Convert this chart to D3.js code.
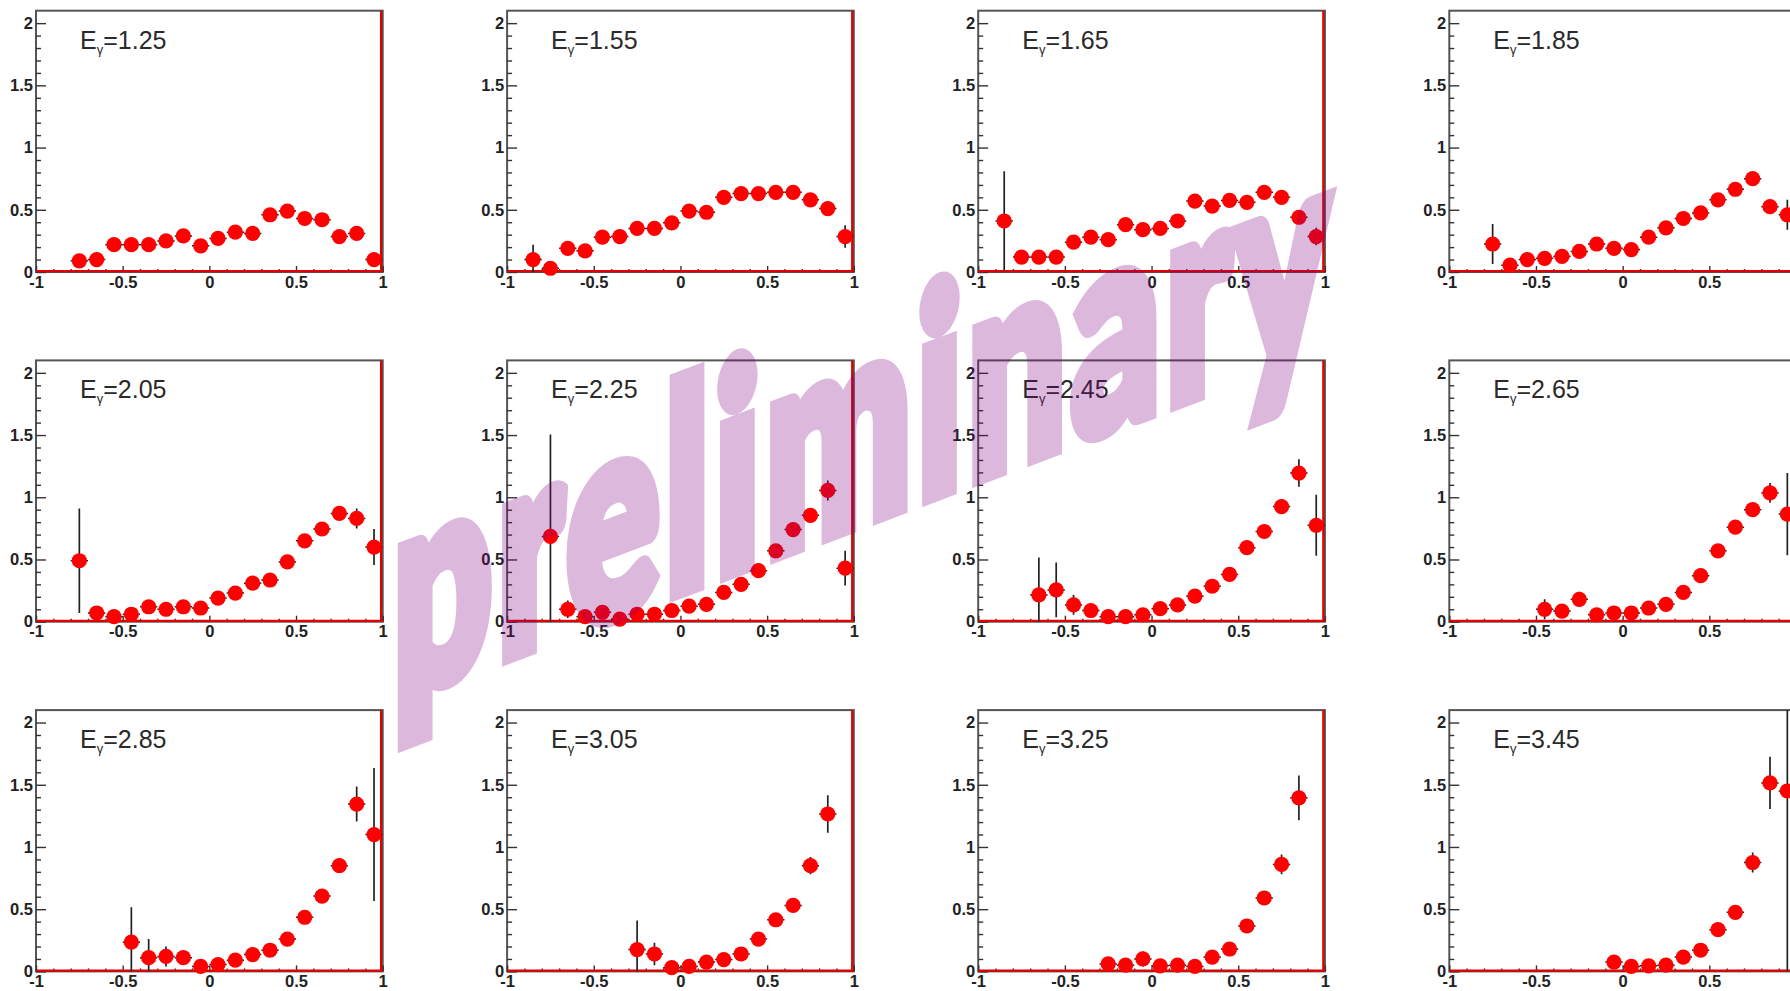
<!DOCTYPE html>
<html>
<head>
<meta charset="utf-8">
<script src="https://cdn.jsdelivr.net/npm/d3@7"></script>
<style>
  html, body { margin: 0; padding: 0; background: #fff; overflow: hidden; }
  svg { display: block; }
</style>
</head>
<body>
<svg id="chart" width="1790" height="991"></svg>
<script>
// cos(theta) bin centres (bin width 0.1)
const binCenters = [-0.95, -0.85, -0.75, -0.65, -0.55, -0.45, -0.35, -0.25, -0.15, -0.05,
                     0.05,  0.15,  0.25,  0.35,  0.45,  0.55,  0.65,  0.75,  0.85,  0.95];
const binHalfWidth = 0.05;

// photon energies, one panel each
const energyLabels = ["1.25", "1.55", "1.65", "1.85", "2.05", "2.25",
                      "2.45", "2.65", "2.85", "3.05", "3.25", "3.45"];

// axis ticks
const xMajorTicks = [-1, -0.5, 0, 0.5, 1];
const xMinorTicks = [-0.9, -0.8, -0.7, -0.6, -0.4, -0.3, -0.2, -0.1, 0.1, 0.2, 0.3, 0.4, 0.6, 0.7, 0.8, 0.9];
const yMajorTicks = [0, 0.5, 1, 1.5, 2];
const yMinorTicks = [0.1, 0.2, 0.3, 0.4, 0.6, 0.7, 0.8, 0.9, 1.1, 1.2, 1.3, 1.4, 1.6, 1.7, 1.8, 1.9];
const xDomain = [-1, 1];
const yDomain = [0, 2.1];

// measured values per bin (null = no measurement) and their errors
const val_125 = [null, null, 0.09, 0.10, 0.22, 0.22, 0.22, 0.25, 0.29, 0.21, 0.27, 0.32, 0.31, 0.46, 0.49, 0.43, 0.42, 0.285, 0.31, 0.10];
const err_125 = [null, null, 0.03, 0.03, 0.03, 0.03, 0.03, 0.03, 0.03, 0.03, 0.03, 0.03, 0.03, 0.04, 0.04, 0.04, 0.04, 0.03, 0.04, 0.04];

const val_155 = [null, 0.10, 0.03, 0.19, 0.17, 0.28, 0.285, 0.35, 0.35, 0.395, 0.49, 0.48, 0.60, 0.63, 0.63, 0.64, 0.64, 0.58, 0.51, 0.285];
const err_155 = [null, 0.12, 0.04, 0.04, 0.03, 0.03, 0.03, 0.03, 0.03, 0.03, 0.03, 0.03, 0.03, 0.03, 0.03, 0.03, 0.03, 0.04, 0.04, 0.09];

const val_165 = [null, 0.41, 0.12, 0.12, 0.12, 0.24, 0.28, 0.26, 0.38, 0.34, 0.35, 0.41, 0.57, 0.53, 0.575, 0.56, 0.64, 0.60, 0.44, 0.285];
const err_165 = [null, 0.40, 0.04, 0.03, 0.03, 0.03, 0.03, 0.03, 0.03, 0.03, 0.03, 0.03, 0.03, 0.03, 0.03, 0.03, 0.04, 0.04, 0.05, 0.07];

const val_185 = [null, null, 0.225, 0.055, 0.10, 0.11, 0.125, 0.165, 0.225, 0.19, 0.18, 0.28, 0.355, 0.43, 0.475, 0.58, 0.665, 0.75, 0.525, 0.46];
const err_185 = [null, null, 0.16, 0.04, 0.03, 0.03, 0.03, 0.03, 0.03, 0.03, 0.03, 0.03, 0.03, 0.03, 0.03, 0.03, 0.04, 0.04, 0.05, 0.12];

const val_205 = [null, null, 0.49, 0.07, 0.04, 0.06, 0.12, 0.10, 0.12, 0.11, 0.19, 0.23, 0.31, 0.335, 0.48, 0.65, 0.745, 0.87, 0.83, 0.60];
const err_205 = [null, null, 0.42, 0.04, 0.03, 0.03, 0.03, 0.03, 0.03, 0.03, 0.03, 0.03, 0.03, 0.03, 0.04, 0.04, 0.04, 0.05, 0.08, 0.145];

const val_225 = [null, null, 0.685, 0.10, 0.04, 0.075, 0.02, 0.06, 0.06, 0.09, 0.125, 0.14, 0.235, 0.30, 0.41, 0.57, 0.74, 0.855, 1.055, 0.43];
const err_225 = [null, null, 0.82, 0.07, 0.03, 0.04, 0.03, 0.03, 0.03, 0.03, 0.03, 0.03, 0.03, 0.03, 0.04, 0.04, 0.05, 0.05, 0.08, 0.14];

const val_245 = [null, null, null, 0.215, 0.255, 0.135, 0.09, 0.04, 0.04, 0.055, 0.105, 0.135, 0.205, 0.285, 0.38, 0.595, 0.725, 0.925, 1.195, 0.775];
const err_245 = [null, null, null, 0.30, 0.22, 0.08, 0.04, 0.03, 0.03, 0.03, 0.03, 0.03, 0.03, 0.04, 0.04, 0.04, 0.05, 0.06, 0.11, 0.245];

const val_265 = [null, null, null, null, null, 0.10, 0.085, 0.18, 0.055, 0.07, 0.07, 0.11, 0.14, 0.235, 0.37, 0.57, 0.76, 0.90, 1.035, 0.865];
const err_265 = [null, null, null, null, null, 0.08, 0.04, 0.06, 0.04, 0.03, 0.03, 0.03, 0.03, 0.03, 0.04, 0.04, 0.05, 0.05, 0.08, 0.33];

const val_285 = [null, null, null, null, null, 0.235, 0.11, 0.12, 0.11, 0.04, 0.055, 0.09, 0.135, 0.17, 0.26, 0.435, 0.605, 0.85, 1.345, 1.10];
const err_285 = [null, null, null, null, null, 0.28, 0.15, 0.08, 0.04, 0.03, 0.03, 0.03, 0.03, 0.04, 0.04, 0.04, 0.05, 0.06, 0.14, 0.535];

const val_305 = [null, null, null, null, null, null, null, 0.175, 0.14, 0.03, 0.04, 0.075, 0.095, 0.14, 0.26, 0.415, 0.53, 0.85, 1.265, null];
const err_305 = [null, null, null, null, null, null, null, 0.235, 0.09, 0.03, 0.03, 0.03, 0.03, 0.04, 0.04, 0.04, 0.05, 0.07, 0.15, null];

const val_325 = [null, null, null, null, null, null, null, 0.06, 0.05, 0.10, 0.045, 0.05, 0.04, 0.115, 0.18, 0.365, 0.59, 0.86, 1.395, null];
const err_325 = [null, null, null, null, null, null, null, 0.05, 0.04, 0.06, 0.04, 0.04, 0.03, 0.04, 0.04, 0.05, 0.05, 0.08, 0.18, null];

const val_345 = [null, null, null, null, null, null, null, null, null, 0.075, 0.04, 0.045, 0.05, 0.115, 0.17, 0.335, 0.475, 0.875, 1.515, 1.45];
const err_345 = [null, null, null, null, null, null, null, null, null, 0.04, 0.03, 0.03, 0.03, 0.04, 0.04, 0.04, 0.05, 0.08, 0.21, 1.6];

const panelValues = [val_125, val_155, val_165, val_185, val_205, val_225, val_245, val_265, val_285, val_305, val_325, val_345];
const panelErrors = [err_125, err_155, err_165, err_185, err_205, err_225, err_245, err_265, err_285, err_305, err_325, err_345];

const watermarkText = "preliminary";

// ---- layout ----
const svgWidth = 1790;
const svg = d3.select("#chart");
const nCols = 4;
const frameLeft0 = 36, colStep = 471.1;
const frameTop0 = 10.7, rowStep = 349.7;
const W = 346.7, H = 261.3;

const x = d3.scaleLinear().domain(xDomain).range([0, W]);
const y = d3.scaleLinear().domain(yDomain).range([H, 0]);

const axisFont = "'Liberation Sans', Arial, Helvetica, sans-serif";

energyLabels.forEach((eLabel, k) => {
  const col = k % nCols, row = Math.floor(k / nCols);
  const left = frameLeft0 + col * colStep;
  const g = svg.append("g")
    .attr("transform", `translate(${left},${frameTop0 + row * rowStep})`);

  const clipId = "clip" + k;
  g.append("clipPath").attr("id", clipId)
    .append("rect").attr("x", 0).attr("y", 0).attr("width", W).attr("height", H);

  // frame
  g.append("rect")
    .attr("x", 0).attr("y", 0).attr("width", W).attr("height", H)
    .attr("fill", "none").attr("stroke", "#555").attr("stroke-width", 2);

  // only ticks that land inside the page get a label
  const xLabelTicks = xMajorTicks.filter(v => left + x(v) + 6 <= svgWidth);

  // y axis: ticks pointing into the frame, labels outside
  const yMajor = g.append("g").call(
    d3.axisLeft(y).tickValues(yMajorTicks).tickSizeInner(-10).tickSizeOuter(0)
      .tickPadding(3).tickFormat(d => String(d)));
  const yMinor = g.append("g").call(
    d3.axisLeft(y).tickValues(yMinorTicks).tickSizeInner(-5).tickSizeOuter(0).tickFormat(""));

  // x axis
  const xMajor = g.append("g").attr("transform", `translate(0,${H})`).call(
    d3.axisBottom(x).tickValues(xLabelTicks).tickSizeInner(-6).tickSizeOuter(0)
      .tickPadding(4).tickFormat(d => String(d)));
  const xMinor = g.append("g").attr("transform", `translate(0,${H})`).call(
    d3.axisBottom(x).tickValues(xMinorTicks).tickSizeInner(-3).tickSizeOuter(0).tickFormat(""));

  [yMajor, yMinor, xMajor, xMinor].forEach(a => {
    a.select(".domain").remove();
    a.selectAll(".tick line").attr("stroke", "#333").attr("stroke-width", 1.4);
    a.selectAll(".tick text")
      .attr("font-family", axisFont).attr("font-weight", "bold")
      .attr("font-size", 16.5).attr("fill", "#222");
  });

  // red baseline and right edge
  g.append("line").attr("x1", 0).attr("x2", W).attr("y1", y(0) - 0.8).attr("y2", y(0) - 0.8)
    .attr("stroke", "#e00000").attr("stroke-width", 2.2);
  g.append("line").attr("x1", x(1) - 1.6).attr("x2", x(1) - 1.6).attr("y1", 0).attr("y2", H)
    .attr("stroke", "#e00000").attr("stroke-width", 2.2);

  // panel label
  const t = g.append("text").attr("x", 44).attr("y", 38)
    .attr("font-family", axisFont).attr("fill", "#2a2a2a").attr("font-size", 25);
  t.append("tspan").text("E");
  t.append("tspan").attr("font-size", 13).attr("dy", 5).text("γ");
  t.append("tspan").attr("dy", -5).text("=" + eLabel);

  // data points
  const vals = panelValues[k], errs = panelErrors[k];
  const pts = binCenters.map((c, i) => ({ c, v: vals[i], e: errs[i] })).filter(d => d.v !== null);

  const bars = g.append("g").attr("clip-path", `url(#${clipId})`);
  bars.selectAll("line.ey").data(pts).join("line").attr("class", "ey")
    .attr("x1", d => x(d.c)).attr("x2", d => x(d.c))
    .attr("y1", d => y(d.v - d.e)).attr("y2", d => y(d.v + d.e))
    .attr("stroke", "#222").attr("stroke-width", 1.7);
  bars.selectAll("line.ex").data(pts).join("line").attr("class", "ex")
    .attr("x1", d => x(d.c - binHalfWidth)).attr("x2", d => x(d.c + binHalfWidth))
    .attr("y1", d => y(d.v)).attr("y2", d => y(d.v))
    .attr("stroke", "#222").attr("stroke-width", 1.5);

  g.append("g").selectAll("circle").data(pts).join("circle")
    .attr("cx", d => x(d.c)).attr("cy", d => y(d.v)).attr("r", 7.6)
    .attr("fill", "#ff0000");
});

// watermark: heavy condensed lettering sheared along a rising baseline
const wmStroke = 18, wmSpacing = 10, wmFontSize = 282;
const wm = svg.append("g").attr("opacity", 0.27);
const wmText = wm.append("text")
  .attr("font-family", "Lato, 'Open Sans', Inter, 'Liberation Sans', sans-serif")
  .attr("font-weight", 900)
  .attr("font-size", wmFontSize)
  .attr("letter-spacing", wmSpacing)
  .attr("fill", "#800080")
  .attr("stroke", "#800080")
  .attr("stroke-width", wmStroke)
  .attr("stroke-linejoin", "miter")
  .attr("stroke-miterlimit", 2)
  .text(watermarkText);
const wmLen = wmText.node().getComputedTextLength();
const wmSx = 946 / (wmLen - wmSpacing + wmStroke);
wmText.attr("transform",
  `translate(${388 + wmSx * wmStroke / 2},${708 - wmStroke / 2}) skewY(-20.8) scale(${wmSx},1)`);
</script>
</body>
</html>
